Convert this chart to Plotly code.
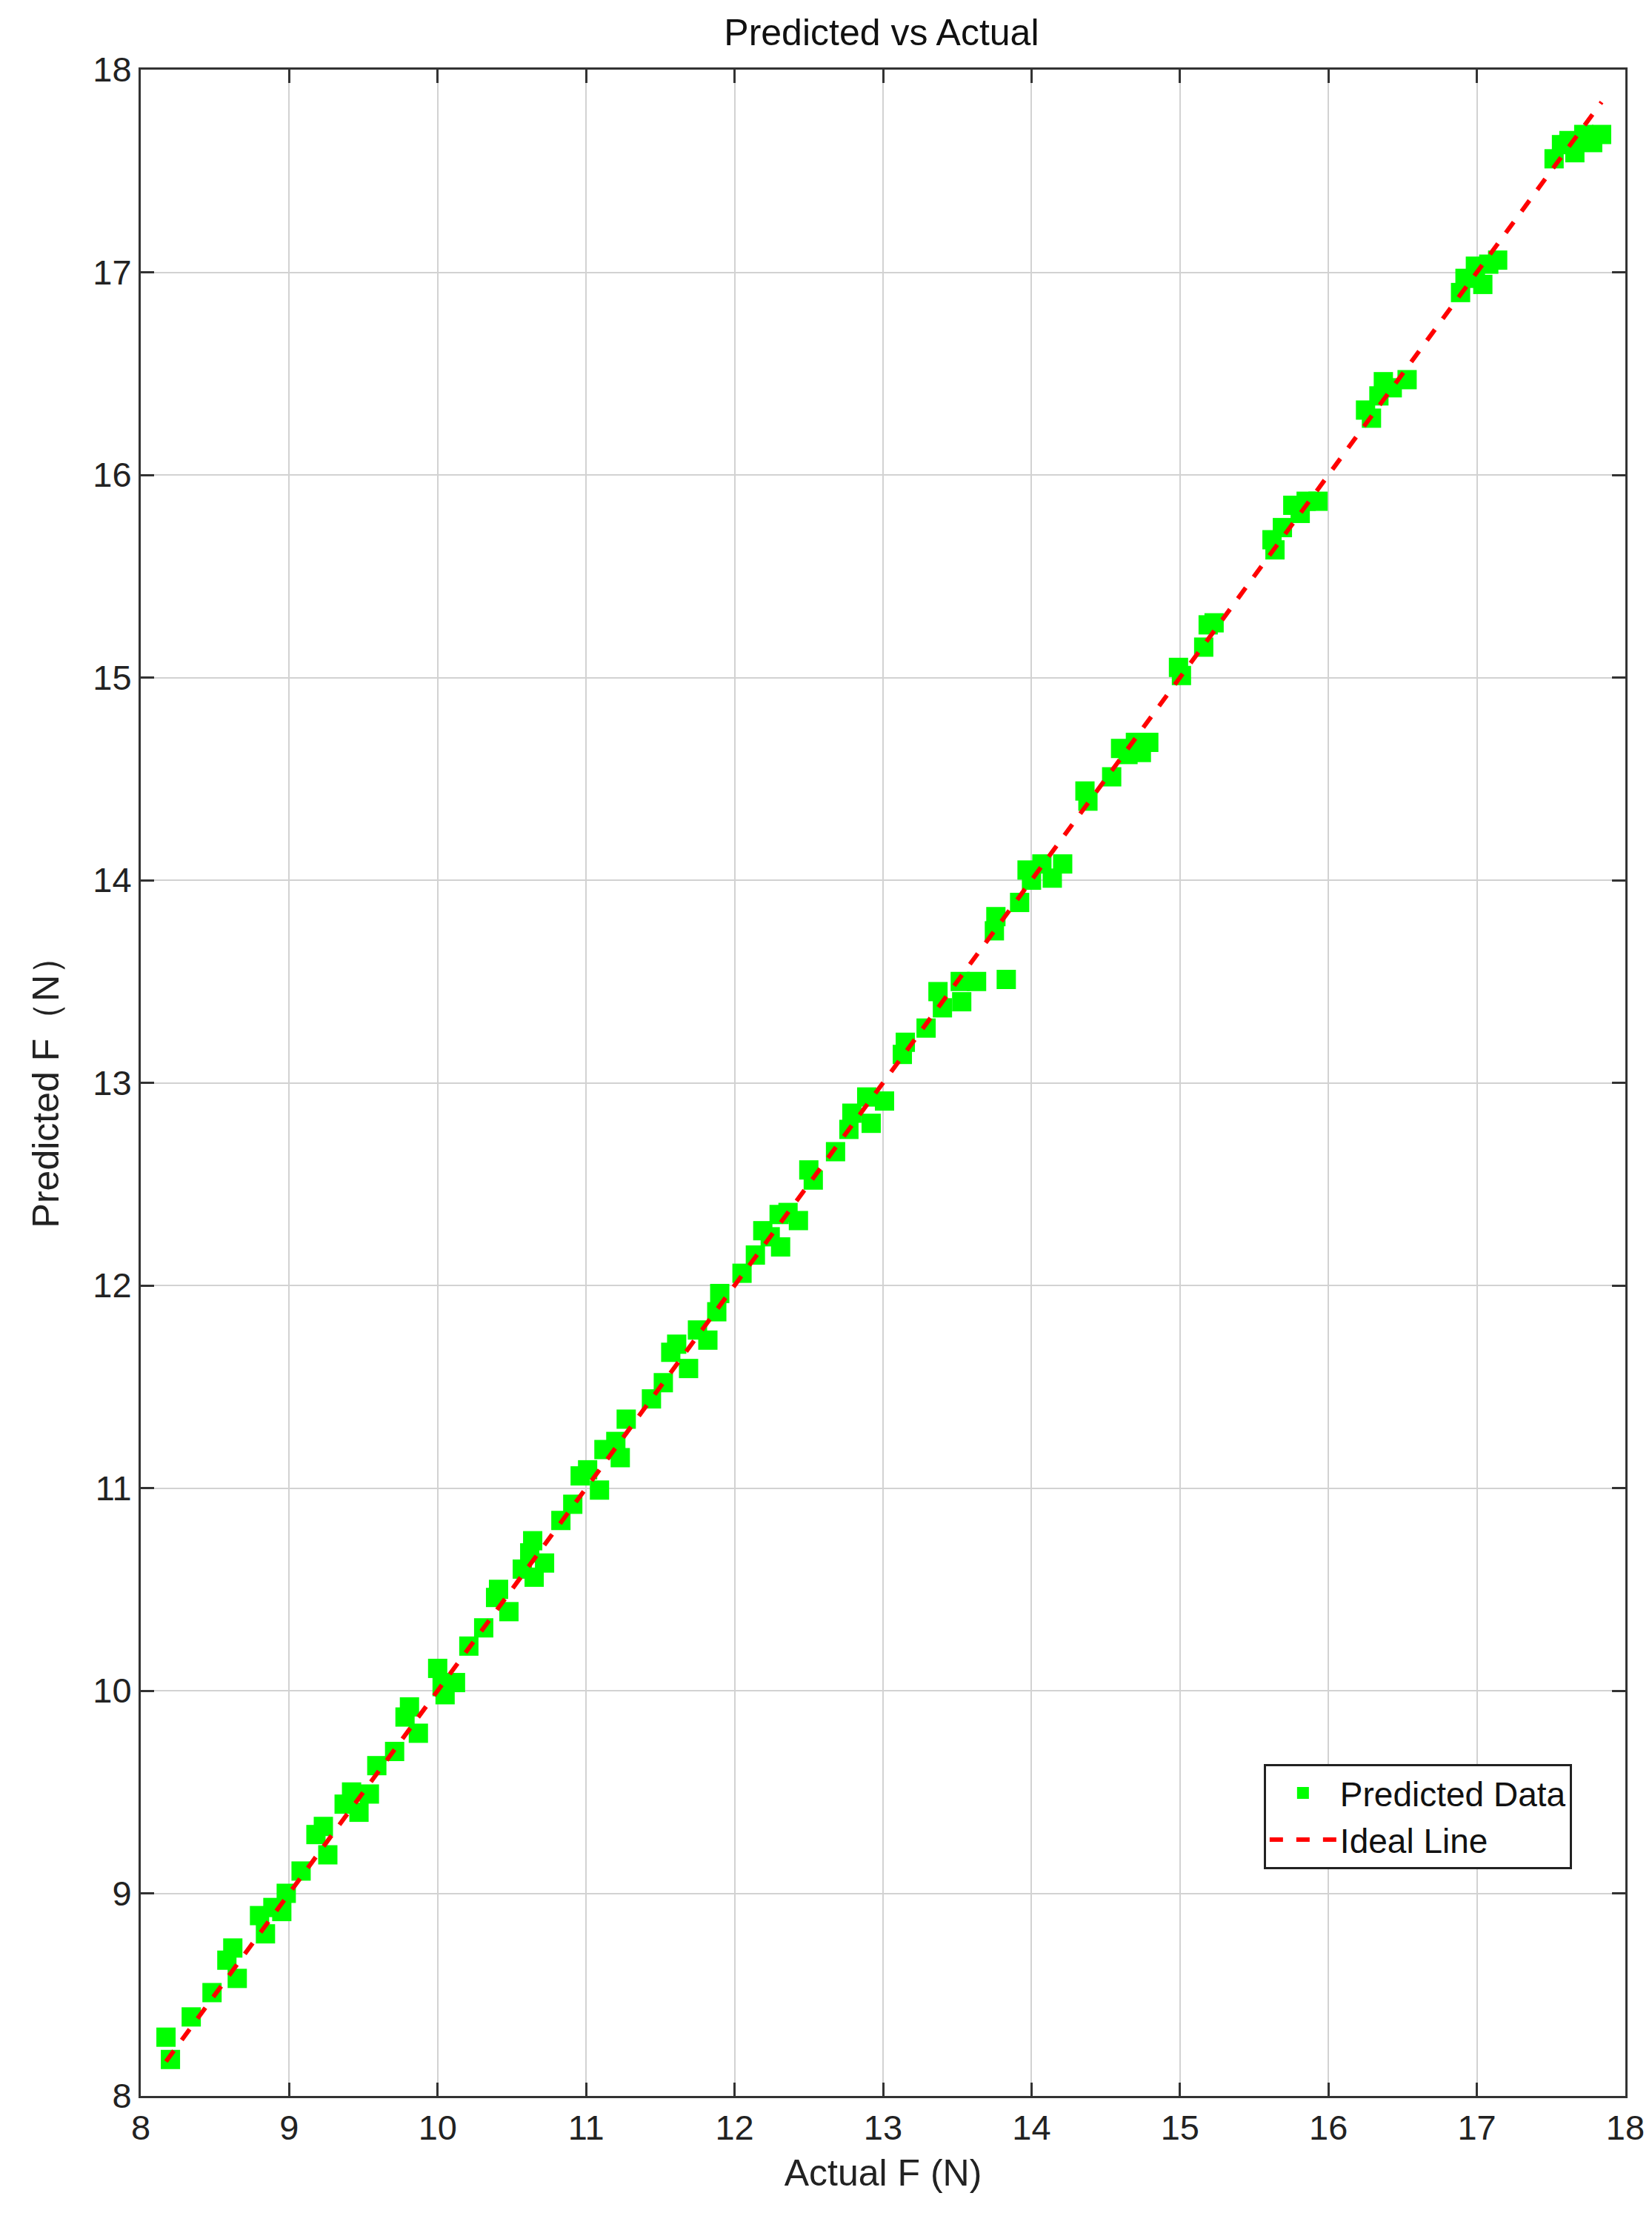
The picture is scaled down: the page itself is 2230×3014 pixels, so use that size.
import plotly.graph_objects as go

actual = [8.17,8.20,8.34,8.48,8.58,8.62,8.65,8.80,8.84,8.89,8.95,8.98,9.08,9.18,9.23,9.26,9.37,9.42,9.47,9.54,9.59,9.71,9.78,9.81,9.87,
10.00,10.03,10.05,10.12,10.21,10.31,10.39,10.41,10.48,10.57,10.62,10.64,10.65,10.72,10.83,10.91,10.96,11.01,11.09,11.12,11.20,11.23,11.27,
11.44,11.52,11.57,11.61,11.69,11.75,11.82,11.90,11.88,12.05,12.14,12.19,12.24,12.30,12.31,12.36,12.43,12.50,12.53,12.68,12.77,12.79,12.89,
12.92,13.01,13.13,13.15,13.29,13.37,13.40,13.52,13.53,13.63,13.75,13.76,13.83,13.92,13.97,14.00,14.07,14.14,14.21,14.36,14.38,14.54,14.60,
14.65,14.70,14.74,14.79,14.99,15.01,15.16,15.19,15.23,15.62,15.64,15.69,15.76,15.81,15.85,15.93,16.25,16.29,16.34,16.37,16.43,16.53,
16.89,16.92,16.99,17.04,17.08,17.14,17.52,17.57,17.62,17.66,17.72,17.78,17.84]
predicted = [8.29,8.18,8.39,8.51,8.67,8.73,8.58,8.89,8.80,8.93,8.91,9.00,9.11,9.29,9.33,9.19,9.44,9.50,9.40,9.49,9.63,9.70,9.87,9.92,9.79,
10.11,10.02,9.98,10.04,10.22,10.31,10.46,10.50,10.39,10.60,10.68,10.74,10.56,10.63,10.84,10.92,11.06,11.09,10.99,11.19,11.23,11.15,11.34,
11.44,11.52,11.67,11.71,11.59,11.78,11.73,11.96,11.87,12.06,12.15,12.27,12.24,12.35,12.19,12.36,12.32,12.57,12.52,12.66,12.77,12.85,12.93,
12.80,12.91,13.14,13.20,13.27,13.45,13.37,13.50,13.40,13.50,13.75,13.82,13.51,13.89,14.05,14.00,14.08,14.01,14.08,14.44,14.39,14.51,14.65,
14.62,14.68,14.63,14.68,15.05,15.01,15.15,15.26,15.27,15.68,15.63,15.74,15.85,15.81,15.87,15.87,16.32,16.28,16.39,16.46,16.43,16.47,
16.90,16.97,17.03,16.94,17.04,17.06,17.56,17.63,17.65,17.59,17.68,17.64,17.68]

ideal = [min(actual), max(actual)]
ticks = list(range(8, 19))
font = "Liberation Sans, Arial, sans-serif"

fig = go.Figure()
fig.add_trace(go.Scatter(x=actual, y=predicted, mode="markers", name="Predicted Data",
                         marker=dict(symbol="square", size=26, color="#00ff00", line=dict(width=0))))
fig.add_trace(go.Scatter(x=ideal, y=ideal, mode="lines", name="Ideal Line",
                         line=dict(color="#ff0000", width=6, dash="dash")))

axis = dict(range=[8, 18], tickvals=ticks, showgrid=True, gridcolor="#d2d2d2", gridwidth=2,
            showline=True, linecolor="#333333", linewidth=3, mirror="ticks", ticks="inside",
            ticklen=18, tickwidth=3, tickcolor="#333333", zeroline=False,
            tickfont=dict(size=47, color="#222222", family=font))
fig.update_layout(
    width=2230, height=3014, plot_bgcolor="white", paper_bgcolor="white",
    margin=dict(l=182, r=44, t=86, b=193),
    title=dict(text="Predicted vs Actual", x=0.53, xanchor="center", y=0.994, yanchor="top",
               font=dict(size=50, color="#111111", family=font)),
    xaxis=dict(axis, title=dict(text="Actual F (N)", font=dict(size=50, color="#222222", family=font), standoff=18)),
    yaxis=dict(axis, title=dict(text="Predicted F（N）", font=dict(size=50, color="#222222", family=font), standoff=30)),
    legend=dict(x=0.964, y=0.112, xanchor="right", yanchor="bottom", bgcolor="white", itemwidth=90,
                bordercolor="#222222", borderwidth=3, font=dict(size=46, color="#111111", family=font)),
)
fig.write_html("out.html")
